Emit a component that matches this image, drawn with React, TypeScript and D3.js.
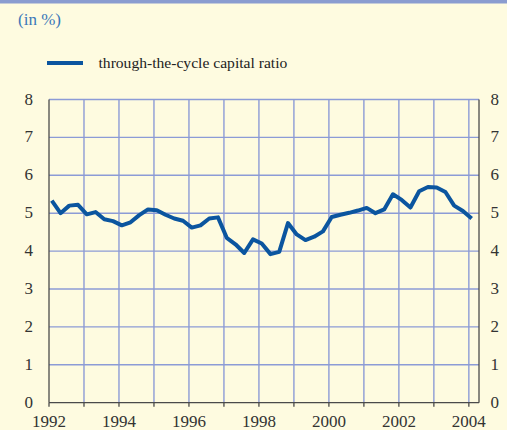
import React, { useRef, useEffect } from 'react'
import * as d3 from 'd3'

// quarterly observations, 1992Q1 .. 2004Q1
const startYear = 1992
const ratio = [
  5.33, 5.0, 5.2, 5.22, 4.97, 5.03, 4.84, 4.79, 4.68, 4.76, 4.95, 5.1,
  5.08, 4.96, 4.86, 4.8, 4.62, 4.68, 4.86, 4.89, 4.35, 4.18, 3.95, 4.31,
  4.2, 3.92, 3.98, 4.74, 4.44, 4.29, 4.38, 4.52, 4.9, 4.96, 5.01, 5.07,
  5.14, 5.0, 5.1, 5.5, 5.35, 5.15, 5.58, 5.69, 5.68, 5.56, 5.2, 5.06,
  4.86,
]
const yTicks = [0, 1, 2, 3, 4, 5, 6, 7, 8]
const yearTicks = [1992, 1993, 1994, 1995, 1996, 1997, 1998, 1999, 2000, 2001, 2002, 2003, 2004]
const yearLabels = [1992, 1994, 1996, 1998, 2000, 2002, 2004]
const seriesName = 'through-the-cycle capital ratio'
const unitLabel = '(in %)'

const W = 507
const H = 430
const bg = '#fefbe0'
const gridColor = '#8c9bd6'
const lineColor = '#0b559f'
const axisColor = '#4a4a4a'
const font = '"Liberation Serif", "Times New Roman", serif'

export default function App() {
  const ref = useRef<SVGSVGElement>(null)

  useEffect(() => {
    const svg = d3.select(ref.current)
    svg.selectAll('*').remove()

    const x = d3.scaleLinear().domain([1992, 2004.29]).range([49, 479])
    const y = d3.scaleLinear().domain([0, 8]).range([402.7, 99.5])

    svg.append('rect').attr('width', W).attr('height', H).attr('fill', bg)
    svg.append('rect').attr('width', W).attr('height', 3.5).attr('fill', '#8a9cd0')

    svg.append('text')
      .attr('x', 18).attr('y', 25)
      .attr('font-family', font).attr('font-size', 17)
      .attr('fill', '#3b78b9')
      .text(unitLabel)

    // legend
    svg.append('line')
      .attr('x1', 47).attr('x2', 83).attr('y1', 63).attr('y2', 63)
      .attr('stroke', lineColor).attr('stroke-width', 4)
    svg.append('text')
      .attr('x', 98.5).attr('y', 68)
      .attr('font-family', font).attr('font-size', 15.6)
      .attr('fill', '#222')
      .text(seriesName)

    // grid
    const g = svg.append('g')
    g.selectAll('.hgrid')
      .data(yTicks.filter(d => d > 0))
      .join('line')
      .attr('class', 'hgrid')
      .attr('x1', x(1992)).attr('x2', x.range()[1])
      .attr('y1', d => y(d)).attr('y2', d => y(d))
      .attr('stroke', gridColor).attr('stroke-width', 1.4)
    g.selectAll('.vgrid')
      .data(yearTicks.slice(1))
      .join('line')
      .attr('class', 'vgrid')
      .attr('x1', d => x(d)).attr('x2', d => x(d))
      .attr('y1', y(8)).attr('y2', y(0))
      .attr('stroke', gridColor).attr('stroke-width', 1.4)

    // axes frame
    const frame = svg.append('g').attr('stroke', axisColor).attr('stroke-width', 1.3)
    frame.append('line').attr('x1', x(1992)).attr('x2', x(1992)).attr('y1', y(8)).attr('y2', y(0))
    frame.append('line').attr('x1', x.range()[1]).attr('x2', x.range()[1]).attr('y1', y(8)).attr('y2', y(0))
    frame.append('line').attr('x1', x(1992)).attr('x2', x.range()[1]).attr('y1', y(0)).attr('y2', y(0))
    frame.selectAll('.tick')
      .data(yearTicks)
      .join('line')
      .attr('class', 'tick')
      .attr('x1', d => x(d)).attr('x2', d => x(d))
      .attr('y1', y(0)).attr('y2', y(0) + 4)

    // y labels both sides
    svg.selectAll('.ylabL')
      .data(yTicks)
      .join('text')
      .attr('class', 'ylabL')
      .attr('x', 33).attr('y', d => y(d) + 5)
      .attr('text-anchor', 'end')
      .attr('font-family', font).attr('font-size', 17).attr('fill', '#333')
      .text(d => d)
    svg.selectAll('.ylabR')
      .data(yTicks)
      .join('text')
      .attr('class', 'ylabR')
      .attr('x', 490.5).attr('y', d => y(d) + 5)
      .attr('font-family', font).attr('font-size', 17).attr('fill', '#333')
      .text(d => d)

    svg.selectAll('.xlab')
      .data(yearLabels)
      .join('text')
      .attr('class', 'xlab')
      .attr('x', d => x(d)).attr('y', 427)
      .attr('text-anchor', 'middle')
      .attr('font-family', font).attr('font-size', 17).attr('fill', '#333')
      .text(d => d)

    // series, one point per quarter (plotted slightly after the quarter start)
    const line = d3.line<number>()
      .x((d, i) => x(startYear + 0.08 + i / 4))
      .y(d => y(d))
    svg.append('path')
      .datum(ratio)
      .attr('d', line)
      .attr('fill', 'none')
      .attr('stroke', lineColor)
      .attr('stroke-width', 4)
      .attr('stroke-linejoin', 'round')
  }, [])

  return (
    <div style={{ position: 'fixed', left: 0, top: 0 }}>
      <svg width={W} height={H} ref={ref} style={{ display: 'block' }} />
    </div>
  )
}
